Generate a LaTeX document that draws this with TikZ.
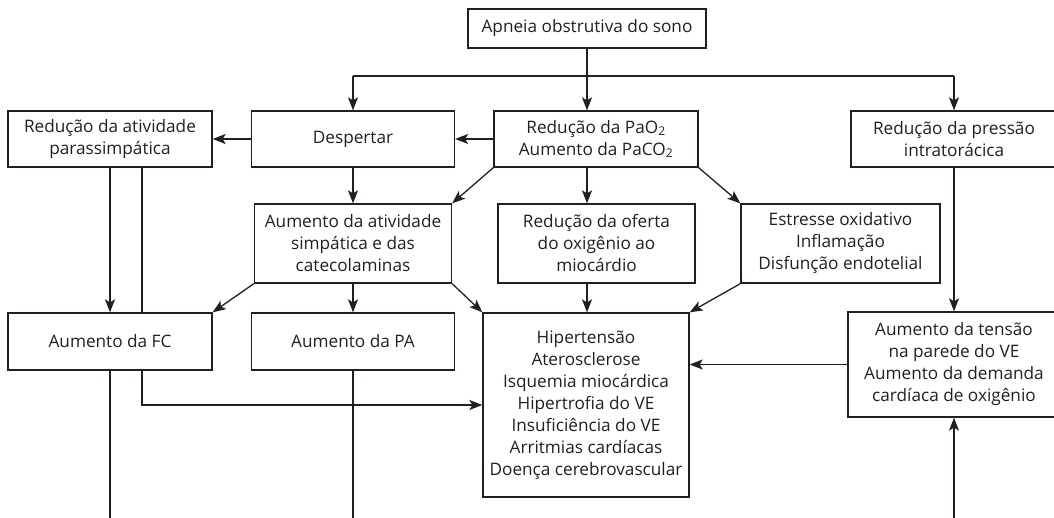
\documentclass[tikz,border=0pt]{standalone}
\usepackage{fontspec}
\setmainfont{Open Sans}
\usepackage{tikz}
\usetikzlibrary{arrows.meta}

\definecolor{ink}{HTML}{231F20}

\tikzset{
  box/.style={draw=ink, line width=1.3pt, inner sep=0pt, align=center,
    text=ink, font=\fontsize{17.2}{22}\selectfont},
  link/.style={draw=ink, line width=1.3pt, -{Stealth[length=13pt,width=10pt,inset=3pt]}},
  wire/.style={draw=ink, line width=1.3pt}
}

\begin{document}
\begin{tikzpicture}[x=1pt,y=-1pt]

\useasboundingbox (0,0) rectangle (1054,518);
\clip (0,0) rectangle (1054,518);

\begin{scope}[scale=1]

\node[box, minimum width=238pt, minimum height=39pt] (apnea) at (587,28.5) {Apneia obstrutiva do sono};

\node[box, minimum width=204pt, minimum height=56pt] (parass) at (110,139) {Redução da atividade\\parassimpática};
\node[box, minimum width=203pt, minimum height=56pt] (despertar) at (353,139) {Despertar};
\node[box, minimum width=204pt, minimum height=56pt] (pao) at (596,139) {Redução da PaO\textsubscript{2}\\Aumento da PaCO\textsubscript{2}};
\node[box, minimum width=206pt, minimum height=56pt] (pressao) at (954,139) {Redução da pressão\\intratorácica};

\node[box, minimum width=197pt, minimum height=79pt] (simpatica) at (353,243.5) {Aumento da atividade\\simpática e das\\catecolaminas};
\node[box, minimum width=197pt, minimum height=79pt] (oferta) at (596.5,243.5) {Redução da oferta\\do oxigênio ao\\miocárdio};
\node[box, minimum width=199pt, minimum height=79pt] (estresse) at (840.5,243.5) {Estresse oxidativo\\Inflamação\\Disfunção endotelial};

\node[box, minimum width=204pt, minimum height=57pt] (fc) at (110,341.5) {Aumento da FC};
\node[box, minimum width=203pt, minimum height=57pt] (pa) at (353,341.5) {Aumento da PA};
\node[box, minimum width=206pt, minimum height=184pt] (doencas) at (586,405) {Hipertensão\\Aterosclerose\\Isquemia miocárdica\\Hipertrofia do VE\\Insuficiência do VE\\Arritmias cardíacas\\Doença cerebrovascular};
\node[box, minimum width=212pt, minimum height=105pt] (tensao) at (954,364.5) {Aumento da tensão\\na parede do VE\\Aumento da demanda\\cardíaca de oxigênio};

\coordinate (fork) at (587,76);
\coordinate (bottom) at (0,530);

\draw[link] (apnea.south) -- (apnea.south |- pao.north);
\draw[wire] (fork -| despertar.north) -- (fork -| pressao.north);
\draw[link] (fork -| despertar.north) -- (despertar.north);
\draw[link] (fork -| pressao.north) -- (pressao.north);

\draw[link] (pao.west) -- (despertar.east);
\draw[link] (despertar.west) -- (parass.east);
\draw[link] (despertar.south) -- (simpatica.north);
\draw[link] (apnea.south |- pao.south) -- (apnea.south |- oferta.north);

\foreach \a/\b in {pao.south west/simpatica.north east, pao.south east/estresse.north west,
  simpatica.south west/fc.north east, simpatica.south east/doencas.north west,
  estresse.south west/doencas.north east}
\draw[link] (\a) -- (\b);

\draw[link] (simpatica.south) -- (pa.north);
\draw[link] (apnea.south |- oferta.south) -- (apnea.south |- doencas.north);
\draw[link] (pressao.south) -- (tensao.north);
\draw[link] (tensao.west) -- (tensao.west -| doencas.east);

\draw[link] (parass.south) -- (fc.north);
\draw[wire] ([xshift=32pt]parass.south) -- ([xshift=32pt]fc.north);
\draw[link] ([xshift=32pt]fc.south) |- (doencas.west);

\draw[wire] (fc.south) -- (fc.south |- bottom);
\draw[wire] (pa.south) -- (pa.south |- bottom);
\draw[link] (tensao.south |- bottom) -- (tensao.south);

\end{scope}

\end{tikzpicture}
\end{document}
